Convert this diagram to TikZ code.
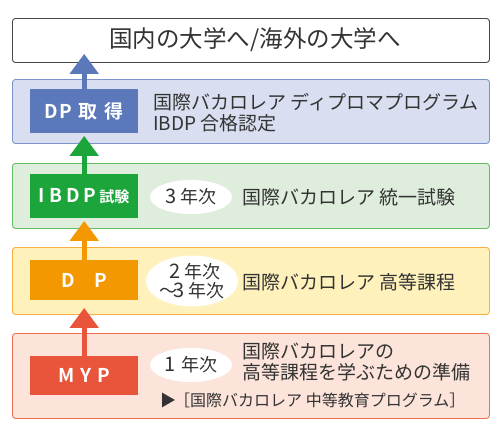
\documentclass[tikz,border=0pt]{standalone}
\usepackage{fontspec}
\setmainfont{Noto Sans CJK JP}[BoldFont={Noto Sans CJK JP Bold}]
\usetikzlibrary{arrows.meta,calc,shapes.geometric}
\definecolor{txt}{HTML}{333333}
\definecolor{bIn}{HTML}{5A78BA}\definecolor{bFill}{HTML}{D9DFF0}\definecolor{bLine}{HTML}{7F93CB}
\definecolor{gIn}{HTML}{1BA53B}\definecolor{gFill}{HTML}{DFEEDC}\definecolor{gLine}{HTML}{63BB63}
\definecolor{oIn}{HTML}{F39800}\definecolor{oFill}{HTML}{FEF1BC}\definecolor{oLine}{HTML}{F4B041}
\definecolor{rIn}{HTML}{E9553A}\definecolor{rFill}{HTML}{FCE4DA}\definecolor{rLine}{HTML}{EE7055}
\tikzset{
  band/.style={rounded corners=3pt, line width=0.9pt, minimum width=477pt, inner sep=0pt, anchor=north west},
  inbox/.style={minimum width=108pt, inner sep=0pt, text=white, font=\bfseries\fontsize{19}{19}\selectfont, anchor=north west},
  oval/.style={ellipse, fill=white, inner sep=0pt, font=\fontsize{18}{20}\selectfont, text=txt, align=center},
  lbl/.style={anchor=west, text=txt, inner sep=0pt, font=\fontsize{19}{21}\selectfont, align=left},
  upar/.style={line width=5pt, -{Triangle[width=28pt,length=20pt]}},
}
\newcommand{\dg}[1]{{\fontsize{20}{20}\selectfont #1}\hspace{4pt}}
\begin{document}
\begin{tikzpicture}[x=1pt,y=-1pt]
\useasboundingbox (0,0) rectangle (500,439);
% top
\node[band, draw=txt!90, fill=white, minimum height=44pt] (top) at (12,18) {};
\node[text=txt, inner sep=0pt, font=\fontsize{23.5}{23.5}\selectfont] (toptxt) at (255,40) {国内の大学へ/海外の大学へ};
% blue
\node[band, draw=bLine, fill=bFill, minimum height=64pt] (bband) at (12,79) {};
\node[inbox, fill=bIn, minimum height=44pt] (bin) at (30,89) {D\hspace{1pt}P\hspace{7pt}取\hspace{7pt}得};
\node[lbl] (btxt) at (153,113) {国際バカロレア ディプロマプログラム\\IBDP 合格認定};
% green
\node[band, draw=gLine, fill=gFill, minimum height=65pt] (gband) at (12,163) {};
\node[inbox, fill=gIn, minimum height=44pt] (gin) at (30,174) {I\hspace{4pt}B\hspace{4pt}D\hspace{4pt}P\hspace{3pt}{\fontsize{15}{15}\selectfont 試験}};
\node[oval, minimum width=82pt, minimum height=34pt] (gov) at (191,197) {\dg{3}年次};
\node[lbl] (gtxt) at (242,197) {国際バカロレア 統一試験};
% orange
\node[band, draw=oLine, fill=oFill, minimum height=67pt] (oband) at (12,247) {};
\node[inbox, fill=oIn, minimum height=40pt] (oin) at (30,260) {D\hspace{20pt}P};
\node[oval, minimum width=86pt, minimum height=51pt, font=\fontsize{18}{18.5}\selectfont] (oov) at (192,281) {\hspace{6pt}\dg{2}年次\\〜\hspace{-4pt}\dg{3}年次};
\node[lbl] (otxt) at (242,282) {国際バカロレア 高等課程};
% red
\node[band, draw=rLine, fill=rFill, minimum height=85pt] (rband) at (12,333) {};
\node[inbox, fill=rIn, minimum height=39pt] (rin) at (30,356) {M\hspace{6pt}Y\hspace{6pt}P};
\node[oval, minimum width=82pt, minimum height=34pt] (rov) at (191,365) {\dg{1}\hspace{2pt}年次};
\node[lbl] (rtxt) at (242,362) {国際バカロレアの\\高等課程を学ぶための準備};
\node[lbl, font=\fontsize{16}{16}\selectfont] (rsub) at (160,400) {▶\hspace{-2pt}［国際バカロレア 中等教育プログラム］};
% arrows
\draw[upar, draw=bIn, fill=bIn] (bin.north) -- ([yshift=9pt]top.south -| bin.north);
\draw[upar, draw=gIn, fill=gIn] (gin.north) -- ([yshift=8pt]bband.south -| gin.north);
\draw[upar, draw=oIn, fill=oIn] (oin.north) -- ([yshift=8pt]gband.south -| oin.north);
\draw[upar, draw=rIn, fill=rIn] (rin.north) -- ([yshift=7pt]oband.south -| rin.north);
\end{tikzpicture}
\end{document}
